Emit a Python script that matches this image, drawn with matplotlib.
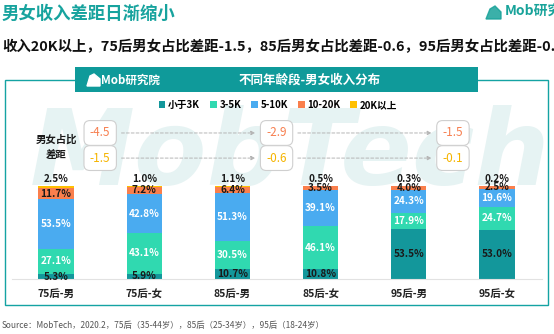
import matplotlib
matplotlib.use("Agg")
import matplotlib.pyplot as plt
from matplotlib.patches import Patch, Rectangle, Polygon
import numpy as np

plt.rcParams['font.family'] = ['Noto Sans CJK SC', 'DejaVu Sans']

# data
groups = ["75后-男", "75后-女", "85后-男", "85后-女", "95后-男", "95后-女"]
series = ["小于3K", "3-5K", "5-10K", "10-20K", "20K以上"]
under3k = [5.3, 5.9, 10.7, 10.8, 53.5, 53.0]
k3_5 = [27.1, 43.1, 30.5, 46.1, 17.9, 24.7]
k5_10 = [53.5, 42.8, 51.3, 39.1, 24.3, 19.6]
k10_20 = [11.7, 7.2, 6.4, 3.5, 4.0, 2.5]
k20up = [2.5, 1.0, 1.1, 0.5, 0.3, 0.2]
gap_10_20 = [-4.5, -2.9, -1.5]
gap_20up = [-1.5, -0.6, -0.1]

colors = ["#13979b", "#30d9b0", "#4aabf0", "#fa7f4c", "#ffc000"]
label_colors = ["#1a1a1a", "white", "white", "#1a1a1a"]
teal = "#14a3a3"

W, H = 554, 334
def fx(px):
    return px / W
def fy(py):
    return 1 - py / H

fig = plt.figure(figsize=(W / 100, H / 100), dpi=100)

# watermark, behind everything
fig.text(fx(30), fy(156), "MobTech", fontsize=76, fontweight="bold", style="italic",
         color="#e6f3f3", va="center", ha="left", family="DejaVu Sans", zorder=-5)

# header texts
fig.text(fx(2), fy(14), "男女收入差距日渐缩小", fontsize=12.5, fontweight="bold",
         color="#17a39e", va="center", ha="left")
fig.text(fx(505), fy(12), "Mob研究院", fontsize=10, fontweight="bold", style="italic",
         color="#18a39a", va="center", ha="left")
fig.patches.append(Polygon([[fx(486), fy(19)], [fx(490), fy(9)], [fx(495), fy(6)],
                            [fx(501), fy(12)], [fx(501), fy(19)]],
                           closed=True, transform=fig.transFigure, color="#18a39a", alpha=0.85))
fig.text(fx(2), fy(47), "收入20K以上，75后男女占比差距-1.5，85后男女占比差距-0.6，95后男女占比差距-0.1",
         fontsize=10.4, fontweight="bold", color="#111111", va="center", ha="left")

# frame
fig.patches.append(Rectangle((fx(5), fy(305)), (548 - 5) / W, (305 - 80.5) / H, fill=False,
                             edgecolor=teal, lw=1.0, transform=fig.transFigure))
fig.patches.append(Rectangle((fx(75), fy(92)), (478 - 75) / W, (92 - 67) / H,
                             facecolor="#0f9a9a", edgecolor="none", transform=fig.transFigure, zorder=3))
fig.text(fx(310), fy(80), "不同年龄段-男女收入分布", fontsize=9, fontweight="bold",
         color="white", va="center", ha="center", zorder=4)
fig.text(fx(101), fy(80), "Mob研究院", fontsize=8.3, style="italic", fontweight="bold",
         color="white", va="center", ha="left", zorder=4)
fig.patches.append(Polygon([[fx(87), fy(86)], [fx(90), fy(76)], [fx(94), fy(74)],
                            [fx(100), fy(79)], [fx(100), fy(86)]],
                           closed=True, transform=fig.transFigure, color="white", zorder=4))

ax = fig.add_axes([fx(12), fy(279), (542 - 12) / W, (279 - 110) / H], zorder=2)
ax.patch.set_alpha(0)
x = np.arange(len(groups))
width = 0.40
stack = [under3k, k3_5, k5_10, k10_20, k20up]
bottom = np.zeros(len(groups))
for i, vals in enumerate(stack):
    vals = np.array(vals)
    ax.bar(x, vals, width, bottom=bottom, color=colors[i], edgecolor="none", zorder=2)
    for j in range(len(groups)):
        if i < 4:
            ax.text(x[j], bottom[j] + vals[j] / 2, f"{vals[j]:.1f}%", ha="center", va="center",
                    fontsize=7.2, fontweight="bold", color=label_colors[i], zorder=3)
        else:
            ax.text(x[j], bottom[j] + vals[j] + 7, f"{vals[j]:.1f}%", ha="center", va="center",
                    fontsize=7.2, fontweight="bold", color="#1a1a1a", zorder=3)
    bottom = bottom + vals

ax.set_xlim(-0.5, 5.51)
ax.set_ylim(0, 181.7)
ax.set_xticks(x)
ax.set_xticklabels(groups, fontsize=7.5, fontweight="bold", color="#222222")
ax.tick_params(axis="x", length=0, pad=7)
ax.set_yticks([])
for s in ["top", "right", "left"]:
    ax.spines[s].set_visible(False)
ax.spines["bottom"].set_color("#e2e2e2")
ax.spines["bottom"].set_linewidth(0.8)

# gap boxes
ax.text(0, 150, "男女占比", ha="center", va="center", fontsize=7.5, fontweight="bold", color="#1a1a1a")
ax.text(0, 133, "差距", ha="center", va="center", fontsize=7.5, fontweight="bold", color="#1a1a1a")
box_x = [0.5, 2.5, 4.5]
for row_y, gaps, c in [(157, gap_10_20, "#f77f4f"), (130, gap_20up, "#f5b400")]:
    for k, g in enumerate(gaps):
        ax.text(box_x[k], row_y, f"{g:.1f}", ha="center", va="center", fontsize=8.5, color=c,
                bbox=dict(boxstyle="round,pad=0.5,rounding_size=0.5", fc="white", ec="#cfcfcf", lw=0.8),
                zorder=4)
        if k < len(gaps) - 1:
            ax.annotate("", xy=(box_x[k + 1] - 0.21, row_y), xytext=(box_x[k] + 0.21, row_y),
                        arrowprops=dict(arrowstyle="-|>", color="#b5b5b5", lw=0.7,
                                        linestyle=(0, (3, 2)), mutation_scale=6), zorder=3)

# legend
handles = [Patch(facecolor=c, edgecolor="none") for c in colors]
fig.legend(handles, series, loc="center", bbox_to_anchor=(fx(278), fy(105)), ncol=5,
           frameon=False, handlelength=0.7, handleheight=0.7, handletextpad=0.3,
           columnspacing=1.0, prop={"weight": "bold", "size": 7})

fig.text(fx(2), fy(325), "Source：MobTech，2020.2，75后（35-44岁），85后（25-34岁），95后（18-24岁）",
         fontsize=6, color="#555555", va="center", ha="left")

fig.savefig("out.png", dpi=100)
